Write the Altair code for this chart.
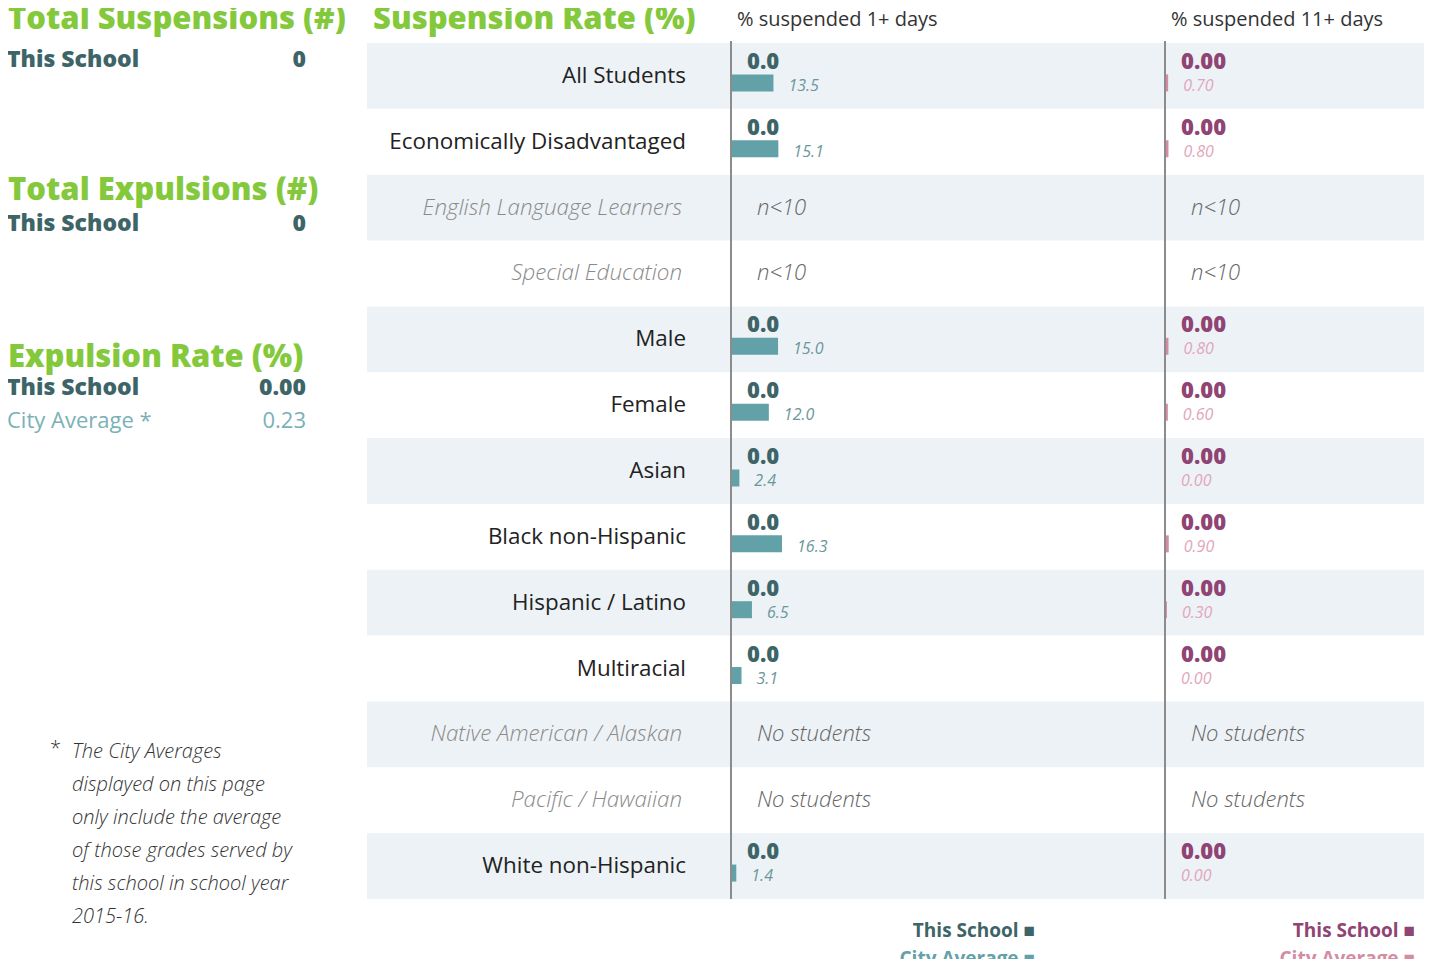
import altair as alt
import pandas as pd

# ---------------- data ----------------
groups = ["All Students", "Economically Disadvantaged", "English Language Learners",
          "Special Education", "Male", "Female", "Asian", "Black non-Hispanic",
          "Hispanic / Latino", "Multiracial", "Native American / Alaskan",
          "Pacific / Hawaiian", "White non-Hispanic"]
status = ["", "", "n<10", "n<10", "", "", "", "", "", "", "No students", "No students", ""]
school_1plus = [0.0, 0.0, None, None, 0.0, 0.0, 0.0, 0.0, 0.0, 0.0, None, None, 0.0]
city_1plus = [13.5, 15.1, None, None, 15.0, 12.0, 2.4, 16.3, 6.5, 3.1, None, None, 1.4]
school_11plus = [0.00, 0.00, None, None, 0.00, 0.00, 0.00, 0.00, 0.00, 0.00, None, None, 0.00]
city_11plus = [0.70, 0.80, None, None, 0.80, 0.60, 0.00, 0.90, 0.30, 0.00, None, None, 0.00]

summary_titles = ["Total Suspensions (#)", "Total Expulsions (#)", "Expulsion Rate (%)"]
summary_school = ["0", "0", "0.00"]
expulsion_city_avg = "0.23"
column_titles = ["Suspension Rate (%)", "% suspended 1+ days", "% suspended 11+ days"]
footnote_lines = ["The City Averages", "displayed on this page", "only include the average",
                  "of those grades served by", "this school in school year", "2015-16."]

df = pd.DataFrame({
    "group": groups,
    "status": status,
    "school1": school_1plus,
    "city1": city_1plus,
    "school11": school_11plus,
    "city11": city_11plus,
    "shade": [i % 2 == 0 for i in range(len(groups))],
})

# ---------------- style ----------------
FONT = "Open Sans"
GREEN = "#84c93c"
TEAL_DARK = "#3d6568"
TEAL = "#62a1a8"
TEAL_TXT = "#6b979b"
TEAL_LIGHT = "#7ab1b6"
PINK_DARK = "#8f4474"
PINK = "#d48ca2"
PINK_TXT = "#e2a6ba"
SHADE = "#edf2f6"
H = 951
W_LEFT, W_LAB, W_C1, W_C2 = 359, 363, 434, 260
ROW_TOP, ROW_BOT = 35, 891

dummy = pd.DataFrame({"k": [0]})


def label(txt, x, y, size, color, weight="normal", style="normal", align="left"):
    return alt.Chart(dummy).mark_text(
        text=txt, align=align, baseline="middle", fontSize=size, color=color,
        fontWeight=weight, fontStyle=style, font=FONT, clip=True
    ).encode(x=alt.value(x), y=alt.value(y))


yenc = alt.Y("group:N", sort=groups, axis=None,
             scale=alt.Scale(domain=groups, range=[ROW_TOP, ROW_BOT],
                             paddingInner=0, paddingOuter=0))
xscale = alt.Scale(domain=[0, 100], range=[2, 309])


def shading(width):
    return alt.Chart(df).transform_filter("datum.shade").mark_rect(color=SHADE).encode(
        y=yenc, x=alt.value(0), x2=alt.value(width))


# ---------------- left summary panel ----------------
left_layers = []
title_y = [12, 183, 350]
school_y = [52, 216, 380]
for t, s, ty, sy in zip(summary_titles, summary_school, title_y, school_y):
    left_layers.append(label(t, 0, ty, 31, GREEN, weight=800))
    left_layers.append(label("This School", -1, sy, 23, TEAL_DARK, weight=800))
    left_layers.append(label(s, 298, sy, 23, TEAL_DARK, weight=800, align="right"))
left_layers.append(label("City Average *", -1, 413, 22, TEAL_LIGHT, weight=400))
left_layers.append(label(expulsion_city_avg, 298, 413, 22, TEAL_LIGHT, weight=400, align="right"))
left_layers.append(label("*", 42, 741, 20, "#333333", weight=300))
for i, line in enumerate(footnote_lines):
    left_layers.append(label(line, 64, 744 + 33 * i, 20, "#333333", weight=300, style="italic"))
left = alt.layer(*left_layers).properties(width=W_LEFT, height=H)

# ---------------- label column ----------------
lab_normal = alt.Chart(df).transform_filter("datum.status == ''").mark_text(
    align="right", baseline="middle", fontSize=22.4, font=FONT, color="#222222", fontWeight=400
).encode(y=yenc, x=alt.value(319), text="group:N")
lab_muted = alt.Chart(df).transform_filter("datum.status != ''").mark_text(
    align="right", baseline="middle", fontSize=22.4, font=FONT, color="#8a8a8a",
    fontWeight=300, fontStyle="italic"
).encode(y=yenc, x=alt.value(315), text="group:N")
labcol = alt.layer(
    shading(W_LAB), lab_normal, lab_muted,
    label(column_titles[0], 6, 12, 31, GREEN, weight=800),
).properties(width=W_LAB, height=H)


# ---------------- data columns ----------------
def data_col(width, sfield, cfield, fmt, dark, bar, txt, title, legend_x):
    valid = alt.Chart(df).transform_filter("datum.status == ''")
    layers = [
        shading(width),
        alt.Chart(dummy).mark_rule(color="#8c8c8c", strokeWidth=2).encode(
            x=alt.value(1), y=alt.value(ROW_TOP - 2), y2=alt.value(ROW_BOT)),
        valid.mark_bar(height=17, yOffset=7, color=bar).encode(
            y=yenc, x=alt.X(f"{cfield}:Q", scale=xscale, axis=None)),
        valid.mark_bar(height=17, yOffset=-14, color=dark).encode(
            y=yenc, x=alt.X(f"{sfield}:Q", scale=xscale, axis=None)),
        valid.mark_text(align="left", baseline="middle", fontSize=22, font=FONT,
                        fontWeight=800, color=dark, dx=15, dy=-14).encode(
            y=yenc, x=alt.X(f"{sfield}:Q", scale=xscale, axis=None),
            text=alt.Text(f"{sfield}:Q", format=fmt)),
        valid.mark_text(align="left", baseline="middle", fontSize=16, font=FONT,
                        fontWeight=400, fontStyle="italic", color=txt, dx=15, dy=10).encode(
            y=yenc, x=alt.X(f"{cfield}:Q", scale=xscale, axis=None),
            text=alt.Text(f"{cfield}:Q", format=fmt)),
        alt.Chart(df).transform_filter("datum.status != ''").mark_text(
            align="left", baseline="middle", fontSize=22, font=FONT, fontWeight=300,
            fontStyle="italic", color="#666666").encode(
            y=yenc, x=alt.value(27), text="status:N"),
        label(title, 7, 12, 20, "#333333", weight=400),
        label("This School \u25a0", legend_x, 923, 19, dark, weight=700, align="right"),
        label("City Average \u25a0", legend_x, 951, 19, bar, weight=700, align="right"),
    ]
    return alt.layer(*layers).properties(width=width, height=H)


col1 = data_col(W_C1, "school1", "city1", ".1f", TEAL_DARK, TEAL, TEAL_TXT, column_titles[1], 305)
col2 = data_col(W_C2, "school11", "city11", ".2f", PINK_DARK, PINK, PINK_TXT, column_titles[2], 251)

chart = alt.hconcat(left, labcol, col1, col2, spacing=0, bounds="flush").properties(
    padding=0
).configure_view(stroke=None).configure_concat(spacing=0)

chart.save("out.html", embed_options={"renderer": "svg", "actions": False})
